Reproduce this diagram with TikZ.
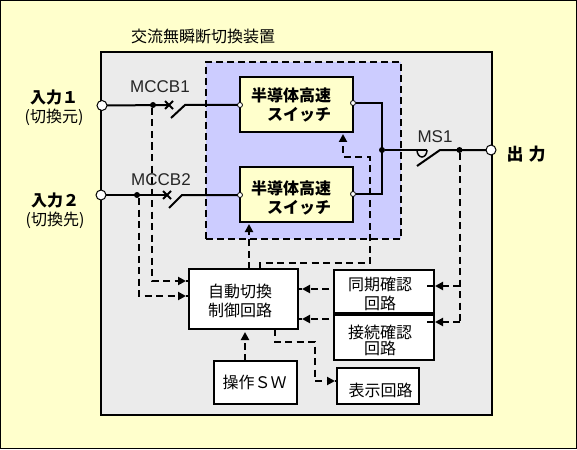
\documentclass[tikz,border=0pt]{standalone}
\usepackage{fontspec}
\usetikzlibrary{arrows.meta,calc}
\setmainfont{Liberation Sans}
\newfontfamily\jp{Noto Sans CJK JP}
\definecolor{bgy}{HTML}{FFFFCC}
\definecolor{bgg}{HTML}{EBEBEB}
\definecolor{bgb}{HTML}{CCCCFF}
\tikzset{
  px/.style={x=1pt,y=-1pt},
  box/.style={draw=black,line width=2pt,fill=white,inner sep=0pt,outer sep=0pt},
  swbox/.style={box,fill=bgy,minimum width=113pt,minimum height=55pt},
  zone/.style={draw=black,line width=2pt,fill=bgb,dash pattern=on 7pt off 4pt,inner sep=0pt,outer sep=0pt},
  wire/.style={draw=black,line width=2pt},
  dwire/.style={draw=black,line width=2pt,dash pattern=on 7pt off 4.5pt},
  adwire/.style={dwire,-{Triangle[length=8pt,width=8pt]}},
  stub/.style={draw=black,line width=1.5pt},
  term/.style={circle,draw=black,line width=1pt,fill=white,minimum size=10pt,inner sep=0pt,outer sep=0pt},
  sterm/.style={circle,draw=black,line width=.8pt,fill=white,minimum size=5pt,inner sep=0pt,outer sep=0pt},
  dot/.style={circle,fill=black,minimum size=6pt,inner sep=0pt,outer sep=0pt},
  txt/.style={font=\jp\fontsize{16pt}{18pt}\selectfont,inner sep=0pt,text=black},
  stxt/.style={font=\jp\fontsize{16pt}{18pt}\selectfont,inner sep=0pt,text=black},
  btxt/.style={font=\jp\bfseries\fontsize{16pt}{18pt}\selectfont,inner sep=0pt,text=black},
  ltxt/.style={font=\fontsize{17pt}{20pt}\selectfont,inner sep=0pt,text=black!85},
}
\begin{document}
\begin{tikzpicture}[px]
\useasboundingbox (0,0) rectangle (577,449);
\fill[bgy] (0,0) rectangle (577,449);
\draw[black,line width=1pt] (0.5,0.5) rectangle (576.5,448.5);
% main frames
\node[box,fill=bgg,minimum width=391pt,minimum height=363pt] (device) at (296.5,233.5) {};
\node[zone,minimum width=195pt,minimum height=177pt] (zone) at (303.5,150.5) {};
\node[swbox] (sw1) at (296.5,104.5) {};
\node[swbox] (sw2) at (296.5,194.5) {};
\node[box,minimum width=109pt,minimum height=60pt] (ctrl) at (243.5,299) {};
\node[box,minimum width=100pt,minimum height=44pt] (sync) at (384,292) {};
\node[box,minimum width=100pt,minimum height=45pt] (conn) at (384,337) {};
\draw[black,line width=4pt] (sync.south west) -- (sync.south east);
\node[box,minimum width=82pt,minimum height=36pt] (disp) at (378,386) {};
\node[box,minimum width=83pt,minimum height=43pt] (op) at (255.5,382.5) {};
% terminals and junctions
\node[term] (in1) at (102,105.5) {};
\node[term] (in2) at (101,195) {};
\node[term] (out) at (491,150) {};
\node[sterm] (s1l) at (240,105) {};
\node[sterm] (s1r) at (353,103) {};
\node[sterm] (s2l) at (240,195) {};
\node[sterm] (s2r) at (353,194) {};
\node[dot] (j1) at (153,105) {};
\node[dot] (j2) at (137,195) {};
\node[dot] (j3) at (382,150) {};
\node[dot] (j4) at (459.5,150) {};
% breaker contacts
\coordinate (b1a) at (171,118); \coordinate (b1b) at (185,105); \coordinate (b1x) at (169,105);
\coordinate (b2a) at (169,208); \coordinate (b2b) at (182,195); \coordinate (b2x) at (167,195);
\coordinate (m1a) at (417,166); \coordinate (m1b) at (440,150); \coordinate (m1c) at (427,150);
% solid wiring
\draw[wire] (in1) -- (b1x);
\draw[wire] (b1a) -- (b1b) -- (s1l);
\draw[wire] (in2) -- (b2x);
\draw[wire] (b2a) -- (b2b) -- (s2l);
\draw[wire] ($(b1x)+(-4,-4)$) -- ++(8,8) ($(b1x)+(-4,4)$) -- ++(8,-8);
\draw[wire] ($(b2x)+(-4,-4)$) -- ++(8,8) ($(b2x)+(-4,4)$) -- ++(8,-8);
\coordinate (rt) at (382,103); \coordinate (rb) at (382,194);
\draw[wire] (s1r) -- (rt) -- (rb) -- (s2r);
\draw[wire] (j3) -- (m1c);
\draw[wire] (m1a) -- (m1b) -- (out);
\draw[line width=1.5pt] (417,150) arc[start angle=180,end angle=360,x radius=5pt,y radius=7pt];
% dashed control lines
\coordinate (k1) at (152,281); \coordinate (k1t) at (186,281);
\coordinate (k2) at (139,296); \coordinate (k2t) at (186,296);
\draw[adwire] (j1.south -| k1) -- (k1) -- (k1t);
\draw[stub] (k1t) -- (ctrl.west |- k1t);
\draw[adwire] (j2.south -| k2) -- (k2) -- (k2t);
\draw[stub] (k2t) -- (ctrl.west |- k2t);
\coordinate (c1b) at (249,269); \coordinate (c1t) at (249,224);
\draw[adwire] (c1b) -- (c1t);
\coordinate (c2b) at (260,269); \coordinate (c2a) at (260,263); \coordinate (c2c) at (370,263);
\coordinate (c2d) at (370,157); \coordinate (c2e) at (343,157); \coordinate (c2f) at (343,134);
\draw[adwire] (c2b) -- (c2a) -- (c2c) -- (c2d) -- (c2e) -- (c2f);
\coordinate (r1) at (460,286); \coordinate (r1t) at (435,286);
\coordinate (r2) at (460,322); \coordinate (r2t) at (435,322);
\draw[dwire] (j4.south -| r1) -- (r2);
\draw[adwire] (r2) -- (r2t);
\draw[adwire] (r1) -- (r1t);
\draw[stub] (r1t) -- (427,286);
\draw[stub] (r2t) -- (427,322);
\coordinate (l1) at (329,289); \coordinate (l1t) at (302,289);
\coordinate (l2) at (329,319); \coordinate (l2t) at (302,319);
\draw[adwire] (l1) -- (l1t); \draw[stub] (l1t) -- (ctrl.east |- l1t);
\draw[adwire] (l2) -- (l2t); \draw[stub] (l2t) -- (ctrl.east |- l2t);
\coordinate (d1) at (275,329); \coordinate (d2) at (275,342); \coordinate (d3) at (315,342);
\coordinate (d4) at (315,381); \coordinate (d5) at (335,381);
\draw[adwire] (d1) -- (d2) -- (d3) -- (d4) -- (d5);
\draw[stub] (d5) -- (disp.west |- d5);
\coordinate (o1) at (245,361); \coordinate (o2) at (245,332);
\draw[adwire] (o1) -- (o2);
% texts
\node[txt] (t0) at (203,36) {交流無瞬断切換装置};
\node[btxt] (t1) at (54,97) {入力１};
\node[stxt] (t2) at (54,117) {(切換元)};
\node[btxt] (t3) at (55,200) {入力２};
\node[stxt] (t4) at (55,220) {(切換先)};
\node[btxt,font=\jp\bfseries\fontsize{17pt}{18pt}\selectfont] (t5) at (526,154) {出\hspace{5pt}力};
\node[ltxt] (t6) at (160,87) {MCCB1};
\node[ltxt] (t7) at (161,180) {MCCB2};
\node[ltxt] (t8) at (435,137) {MS1};
\node[btxt] (t9) at (291,95) {半導体高速};
\node[btxt] (t10) at (299,115) {スイッチ};
\node[btxt] (t11) at (291,188) {半導体高速};
\node[btxt] (t12) at (299,208) {スイッチ};
\node[txt] (t13) at (240,291) {自動切換};
\node[txt] (t14) at (240,310) {制御回路};
\node[txt] (t15) at (254.5,382) {操作ＳＷ};
\node[txt] (t16) at (380,284) {同期確認};
\node[txt] (t17) at (380,303) {回路};
\node[txt] (t18) at (380,332) {接続確認};
\node[txt] (t19) at (380,348) {回路};
\node[txt] (t20) at (380.5,390) {表示回路};
\end{tikzpicture}
\end{document}
